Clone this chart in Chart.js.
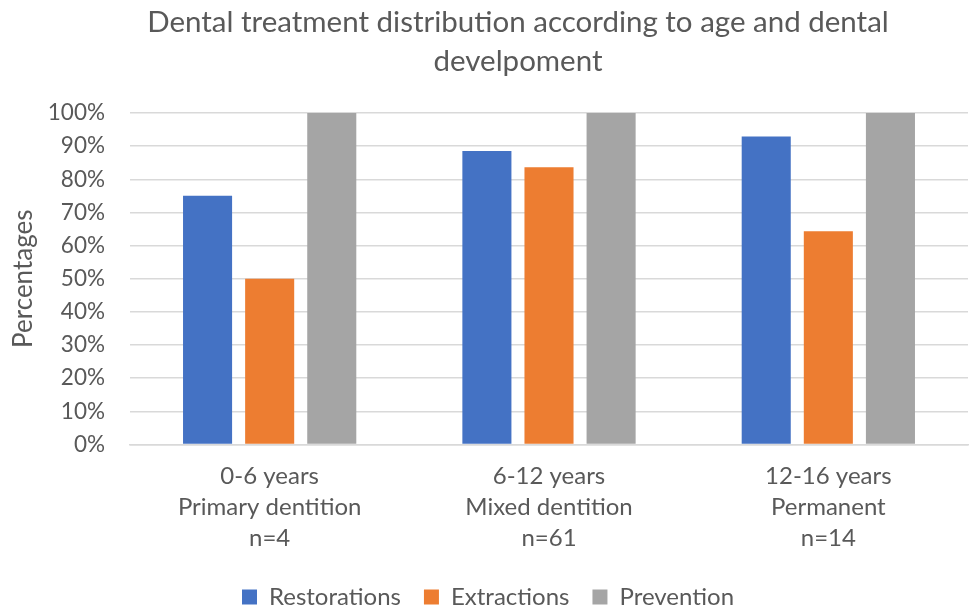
<!DOCTYPE html>
<html>
<head>
<meta charset="utf-8">
<script src="https://cdn.jsdelivr.net/npm/chart.js@4.4.1/dist/chart.umd.min.js"></script>
<style>
  html, body { margin: 0; padding: 0; background: #ffffff; }
  #wrap { width: 971px; height: 610px; position: relative; }
</style>
</head>
<body>
<div id="wrap"><canvas id="chart"></canvas></div>
<script>
// Age groups (multi-line labels)
const categories = [
  ["0-6 years", "Primary dentition", "n=4"],
  ["6-12 years", "Mixed dentition", "n=61"],
  ["12-16 years", "Permanent", "n=14"]
];
// Share of patients receiving each treatment, in percent
const restorations = [75, 88.5, 92.9];
const extractions = [50, 83.6, 64.3];
const prevention = [100, 100, 100];
const yTicks = [0, 10, 20, 30, 40, 50, 60, 70, 80, 90, 100];

const titleLines = ["Dental treatment distribution according to age and dental", "develpoment"];
const FONT = "Lato, 'Open Sans', sans-serif";
const TEXT = "#595959";

// Two-line chart title drawn above the plot
const titlePlugin = {
  id: "topTitle",
  afterDraw(chart) {
    const ctx = chart.ctx;
    ctx.save();
    ctx.fillStyle = TEXT;
    ctx.font = "29.5px " + FONT;
    ctx.textAlign = "center";
    ctx.textBaseline = "middle";
    titleLines.forEach((t, i) => ctx.fillText(t, 518, 22 + i * 39));
    ctx.restore();
  }
};

function build() {
  new Chart(document.getElementById("chart"), {
    type: "bar",
    data: {
      labels: categories,
      datasets: [
        { label: "Restorations", data: restorations, backgroundColor: "#4472C4" },
        { label: "Extractions", data: extractions, backgroundColor: "#ED7D31" },
        { label: "Prevention", data: prevention, backgroundColor: "#A5A5A5" }
      ]
    },
    options: {
      responsive: true,
      maintainAspectRatio: false,
      animation: false,
      layout: { padding: { top: 113, right: 3, left: 8, bottom: -9 } },
      datasets: { bar: { categoryPercentage: 0.667, barPercentage: 0.79 } },
      plugins: {
        title: { display: false },
        tooltip: { enabled: false },
        legend: {
          position: "bottom",
          labels: {
            color: TEXT,
            font: { family: FONT, size: 24 },
            boxWidth: 15,
            boxHeight: 15,
            padding: 23
          }
        }
      },
      scales: {
        x: {
          grid: { display: false },
          border: { display: true, color: "#d9d9d9", width: 1.5 },
          ticks: {
            color: TEXT,
            font: { family: FONT, size: 24, lineHeight: 1.3 },
            padding: 8
          }
        },
        y: {
          min: 0,
          max: 100,
          afterBuildTicks(axis) { axis.ticks = yTicks.map(v => ({ value: v })); },
          afterFit(axis) { axis.width = 122; },
          grid: { color: "#d9d9d9", lineWidth: 1.5, drawTicks: false },
          border: { display: false },
          ticks: {
            color: TEXT,
            font: { family: FONT, size: 22.5 },
            padding: 25,
            callback: v => v + "%"
          },
          title: {
            display: true,
            text: "Percentages",
            color: TEXT,
            font: { family: FONT, size: 26 },
            padding: { top: 0, bottom: 11 }
          }
        }
      }
    },
    plugins: [titlePlugin]
  });
}

// Make sure the face is ready before text gets measured
if (document.fonts && document.fonts.load) {
  Promise.all([document.fonts.load("24px Lato"), document.fonts.load("29.5px Lato")])
    .then(build, build);
} else {
  build();
}
</script>
</body>
</html>
